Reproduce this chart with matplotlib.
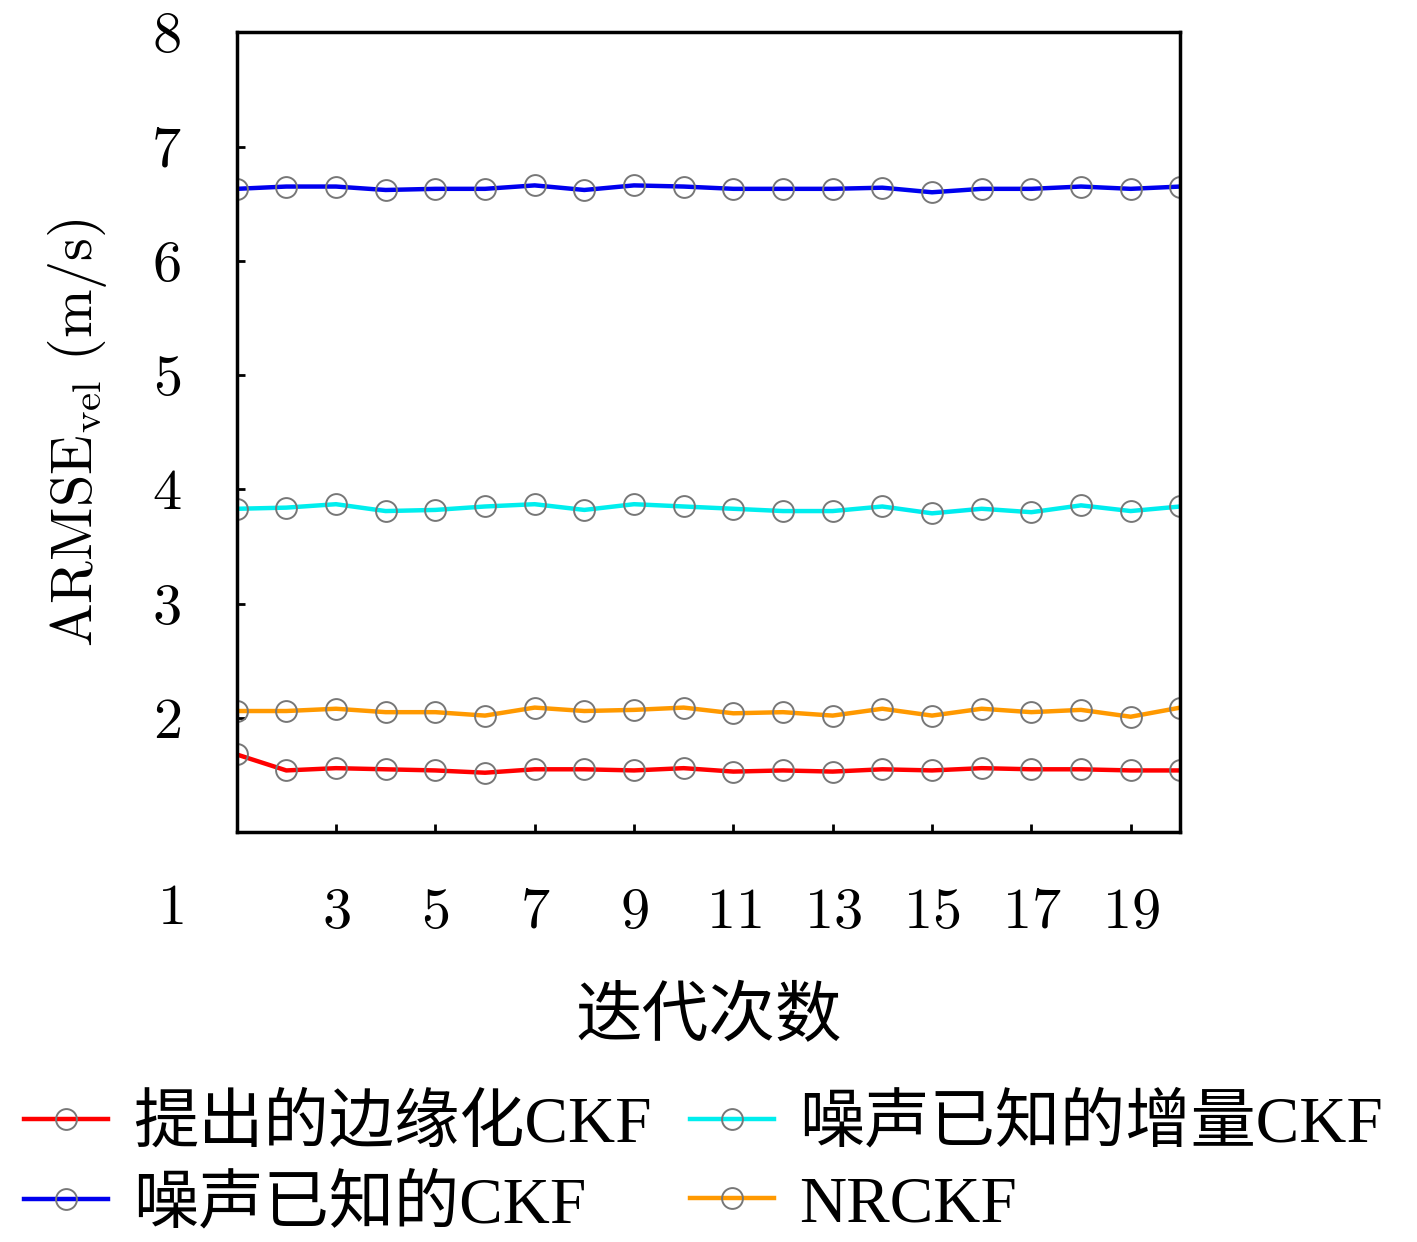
import matplotlib
matplotlib.use("Agg")
import matplotlib.pyplot as plt
import numpy as np

plt.rcParams['mathtext.fontset'] = 'cm'
plt.rcParams['font.family'] = ['Liberation Serif', 'Noto Sans CJK SC', 'DejaVu Sans']

# iterations
iters = np.arange(1, 21)

# ARMSE_vel values
proposed = [1.68, 1.54, 1.56, 1.55, 1.54, 1.52, 1.55, 1.55, 1.54, 1.56,
            1.53, 1.54, 1.53, 1.55, 1.54, 1.56, 1.55, 1.55, 1.54, 1.54]
known_ckf = [6.63, 6.65, 6.65, 6.62, 6.63, 6.63, 6.66, 6.62, 6.66, 6.65,
             6.63, 6.63, 6.63, 6.64, 6.60, 6.63, 6.63, 6.65, 6.63, 6.65]
known_aug = [3.83, 3.84, 3.87, 3.81, 3.82, 3.85, 3.87, 3.82, 3.87, 3.85,
             3.83, 3.81, 3.81, 3.85, 3.79, 3.83, 3.80, 3.86, 3.81, 3.85]
nrckf = [2.06, 2.06, 2.08, 2.05, 2.05, 2.02, 2.09, 2.06, 2.07, 2.09,
         2.04, 2.05, 2.02, 2.08, 2.02, 2.08, 2.05, 2.07, 2.01, 2.09]

labels = ['提出的边缘化CKF', '噪声已知的CKF', '噪声已知的增量CKF', 'NRCKF']
series = [proposed, known_ckf, known_aug, nrckf]
colors = ['#ff0000', '#0000ee', '#00eeee', '#ff9900']

xticks = [3, 5, 7, 9, 11, 13, 15, 17, 19]
yticks = [2, 3, 4, 5, 6, 7, 8]

fig = plt.figure(figsize=(14.17, 12.42), dpi=100)
ax = fig.add_axes([0.167, 0.330, 0.666, 0.644])

handles = []
for vals, c, lab in zip(series, colors, labels):
    h, = ax.plot(iters, vals, color=c, lw=3.2, marker='o', ms=15,
                 mfc='none', mec='#777777', mew=1.4, label=lab)
    handles.append(h)

ax.set_xlim(1, 20)
ax.set_ylim(1, 8)
ax.set_xticks(xticks)
ax.set_xticklabels(['$%d$' % t for t in xticks])
ax.set_yticks(yticks)
ax.set_yticklabels(['$%d$' % t for t in yticks])
ax.tick_params(direction='in', length=6, width=2, labelsize=42)
ax.tick_params(axis='x', pad=40)
ax.tick_params(axis='y', pad=40)
for s in ax.spines.values():
    s.set_linewidth(2.5)

# lone "1" label at the lower-left corner
ax.text(-0.07, -0.097, '$1$', transform=ax.transAxes, fontsize=42,
        ha='center', va='center')

ax.set_ylabel(r'$\mathrm{ARMSE}_{\mathrm{vel}}\ (\mathrm{m/s})$', fontsize=42, labelpad=30)
ax.set_xlabel('迭代次数', fontsize=48, labelpad=35)

fig.legend(handles=handles, loc='upper left', bbox_to_anchor=(-0.015, 0.155),
           ncol=2, frameon=False, fontsize=47, handlelength=1.28,
           handletextpad=0.38, columnspacing=0.6, labelspacing=0.3,
           borderpad=0.2)

fig.savefig('out.png', dpi=100, facecolor='white')
